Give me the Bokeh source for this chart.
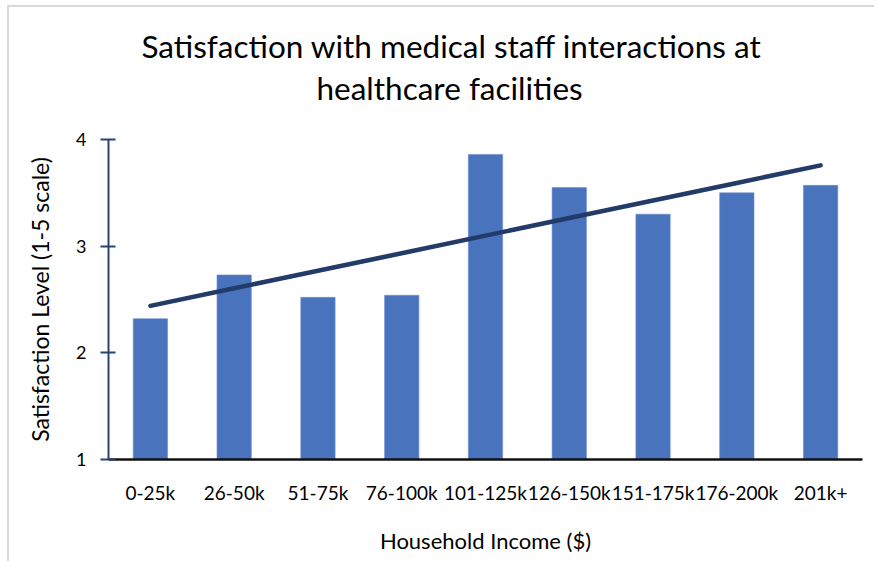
import numpy as np
from bokeh.plotting import figure
from bokeh.models import Range1d, FactorRange, Title
from bokeh.embed import file_html
from bokeh.resources import INLINE

categories = ["0-25k", "26-50k", "51-75k", "76-100k", "101-125k",
              "126-150k", "151-175k", "176-200k", "201k+"]
satisfaction = [2.32, 2.73, 2.52, 2.54, 3.86, 3.55, 3.30, 3.50, 3.57]
y_ticks = [1, 2, 3, 4]
title_lines = ["Satisfaction with medical staff interactions at",
               "healthcare facilities"]
x_title = "Household Income ($)"
y_title = "Satisfaction Level (1-5 scale)"

# linear trendline (least squares), as in the source chart
idx = np.arange(len(categories))
slope, intercept = np.polyfit(idx, satisfaction, 1)
trend = list(intercept + slope * idx)

FONT = "Lato"
OFF_X, OFF_Y = 9, 7   # canvas offset inside the light chart border

p = figure(x_range=FactorRange(*categories), y_range=Range1d(1, 4),
           width=876 - OFF_X, height=563 - OFF_Y,
           output_backend="svg", toolbar_location=None,
           min_border_left=108 - OFF_X, min_border_right=14,
           min_border_top=139 - OFF_Y, min_border_bottom=104,
           margin=(OFF_Y - 2, 0, 0, OFF_X - 2),
           styles={"border-top": "2px solid #D9D9D9",
                   "border-left": "2px solid #D9D9D9"})

p.vbar(x=categories, top=satisfaction, bottom=1, width=0.41,
       fill_color="#4A73BD", line_color="#6E8FD0", line_width=0.6)
p.line(x=categories, y=trend, line_color="#233B68", line_width=4.5,
       line_cap="round")

# two-line title: a tiny spacer nearest the frame, then line 2,
# then line 1 as the outermost (default) title
p.add_layout(Title(text=" ", text_font_size="1px", standoff=30), "above")
p.add_layout(Title(text=title_lines[1], align="left", offset=208,
                   text_font=FONT, text_font_size="31.5px",
                   text_font_style="normal", text_color="#000000",
                   standoff=0), "above")
p.title.text = title_lines[0]
p.title.align = "left"
p.title.offset = 33
p.title.text_font = FONT
p.title.text_font_size = "31.5px"
p.title.text_font_style = "normal"
p.title.text_color = "#000000"
p.title.standoff = 4

p.xgrid.grid_line_color = None
p.ygrid.grid_line_color = None
p.outline_line_color = None

xa = p.xaxis[0]
xa.axis_label = x_title
xa.axis_line_color = "#111111"
xa.axis_line_width = 2.5
xa.major_tick_line_color = None
xa.minor_tick_line_color = None
xa.major_label_standoff = 15
xa.major_label_text_font = FONT
xa.major_label_text_font_size = "19px"
xa.major_label_text_color = "#000000"
xa.axis_label_text_font = FONT
xa.axis_label_text_font_size = "22px"
xa.axis_label_text_font_style = "normal"
xa.axis_label_text_color = "#000000"
xa.axis_label_standoff = 20

ya = p.yaxis[0]
ya.ticker = y_ticks
ya.axis_label = y_title
ya.axis_line_color = "#2A4373"
ya.axis_line_width = 2
ya.major_tick_line_color = "#2A4373"
ya.major_tick_line_width = 2
ya.major_tick_in = 7
ya.major_tick_out = 8
ya.minor_tick_line_color = None
ya.major_label_standoff = 14
ya.major_label_text_font = FONT
ya.major_label_text_font_size = "18px"
ya.major_label_text_color = "#000000"
ya.axis_label_text_font = FONT
ya.axis_label_text_font_size = "23px"
ya.axis_label_text_font_style = "normal"
ya.axis_label_text_color = "#000000"
ya.axis_label_standoff = 19

open("out.html", "w").write(file_html(p, INLINE))
